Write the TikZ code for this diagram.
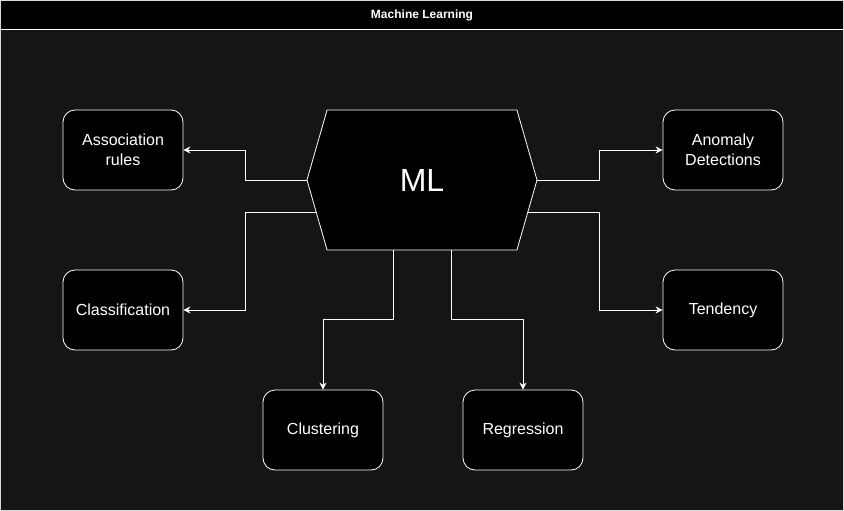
\documentclass[tikz,border=0pt]{standalone}
\usepackage{fontspec}
\setmainfont{Liberation Sans}
\usetikzlibrary{shapes,shapes.symbols,arrows.meta,positioning,calc}

\definecolor{bgdark}{RGB}{21,21,21}

\begin{document}
\begin{tikzpicture}[
    x=1pt, y=-1pt,
    box/.style={rectangle, draw=white, fill=black, text=white, line width=0.8pt, text width=110pt, align=center, minimum width=120pt, minimum height=80pt, rounded corners=12pt, inner sep=0pt, font=\fontsize{16}{20}\selectfont},
    hexa/.style={signal, signal to=east and west, signal pointer angle=148, draw=white, fill=black, text=white, line width=0.8pt, minimum width=230pt, minimum height=140pt, inner sep=0pt, font=\fontsize{32}{36}\selectfont},
    arrow/.style={-{Stealth[length=7pt,width=7pt]}, draw=white, line width=0.8pt}
]

% Frame and title bar
\useasboundingbox (0,0) rectangle (844,511);
\fill[bgdark] (0,0) rectangle (844,511);
\fill[black] (0,0) rectangle (844,30);
\draw[white!85!black, line width=0.8pt] (0.5,0.5) rectangle (843.5,510.5);
\draw[white, line width=1pt] (0.5,30) -- (843.5,30);
\node[text=white, font=\bfseries\fontsize{12}{14}\selectfont] (title) at (422,15) {Machine Learning};

% Centre
\node[hexa] (ml) at (422,180) {ML};

% Leaves
\node[box] (assoc) at (123,150) {Association\\rules};
\node[box] (class) at (123,310) {Classification};
\node[box] (anom) at (723,150) {Anomaly\\Detections};
\node[box] (tend) at (723,310) {Tendency};
\node[box] (clust) at (323,430) {Clustering};
\node[box] (regr) at (523,430) {Regression};

% Connectors
\draw[arrow] (ml.west) -| ([xshift=62pt]assoc.east) -- (assoc.east);
\draw[arrow] (ml.197) -| ([xshift=62pt]class.east) -- (class.east);
\draw[arrow] (ml.east) -| ([xshift=-63pt]anom.west) -- (anom.west);
\draw[arrow] (ml.343) -| ([xshift=-63pt]tend.west) -- (tend.west);
\draw[arrow] ([xshift=-29pt]ml.south) |- ([yshift=70pt]clust.north) -- (clust.north);
\draw[arrow] ([xshift=29pt]ml.south) |- ([yshift=70pt]regr.north) -- (regr.north);

\end{tikzpicture}
\end{document}
